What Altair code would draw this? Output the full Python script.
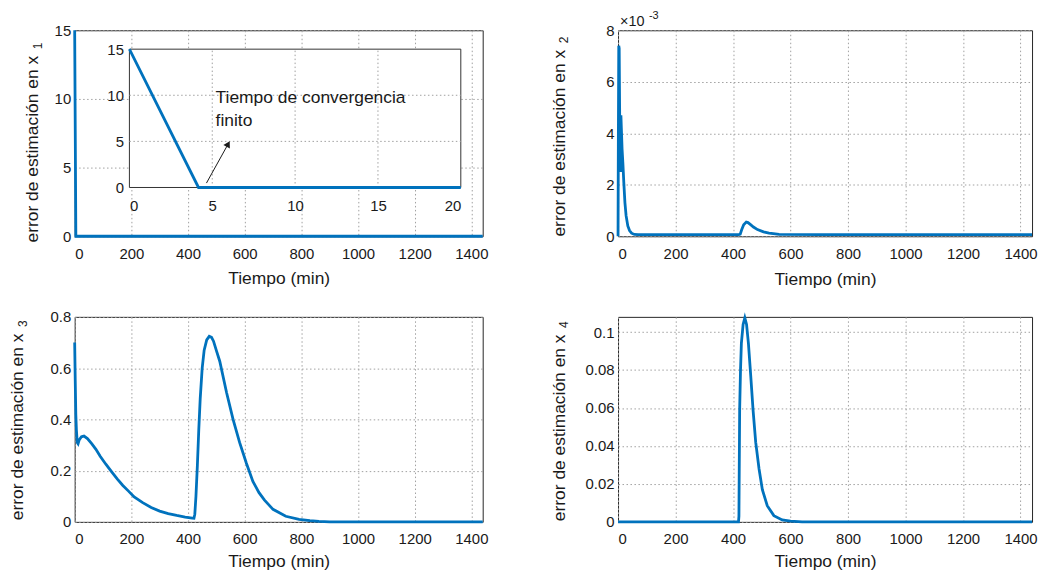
import altair as alt
import pandas as pd

FONT = "Liberation Sans"
BLUE = "#0072BD"
INK = "#1a1a1a"

# ---------------- data ----------------
t_ticks = [0, 200, 400, 600, 800, 1000, 1200, 1400]

# panel 1 : error in x1
x1_t = [0, 4.17, 20, 1440]
x1_v = [15, 0, 0, 0]
x1_yticks = [0, 5, 10, 15]

# inset of panel 1
inset_xticks = [0, 5, 10, 15, 20]
inset_yticks = [0, 5, 10, 15]
inset_xgrid = [5, 10, 15]
inset_ygrid = [5, 10]
note_lines = ["Tiempo de convergencia", "finito"]
note_t = [5.2, 5.2]
note_v = [9.2, 6.7]
arrow_t = [4.65, 5.96]
arrow_v = [0.48, 4.72]

# panel 2 : error in x2 (values in units of 1e-3)
x2_t = [0, 1, 2.5, 4, 5.5, 7, 8.5, 10, 11.5, 14, 17, 20, 24, 28, 34, 40, 47, 57,
        70, 150, 250, 350, 420, 425, 430, 437, 446, 452, 462, 471, 485, 506, 525,
        540, 560, 700, 900, 1100, 1300, 1440]
x2_v = [0, 3.5, 7.4, 7.3, 5.0, 2.6, 2.5, 4.7, 4.2, 3.4, 2.8, 2.1, 1.3, 0.8, 0.4, 0.22, 0.12, 0.07,
        0.06, 0.06, 0.06, 0.06, 0.06, 0.08, 0.25, 0.45, 0.55, 0.53, 0.44, 0.36, 0.26, 0.17, 0.12,
        0.1, 0.07, 0.06, 0.06, 0.06, 0.06, 0.06]
x2_yticks = [0, 2, 4, 6, 8]

# panel 3 : error in x3
x3_t = [0, 2, 4, 6, 9, 12, 16, 24, 33, 45, 60, 75, 90, 110, 130, 150, 170, 190, 210,
        240, 270, 300, 330, 360, 390, 415, 421, 424, 428, 433, 438, 443, 450, 457, 466,
        475, 483, 490, 501, 512, 536, 559, 582, 606, 629, 650, 670, 700, 745, 792, 830,
        862, 900, 1440]
x3_v = [0.70, 0.55, 0.42, 0.36, 0.31, 0.305, 0.32, 0.332, 0.335, 0.325, 0.305, 0.283,
        0.256, 0.225, 0.196, 0.168, 0.142, 0.12, 0.097, 0.075, 0.056, 0.042, 0.032,
        0.025, 0.019, 0.015, 0.014, 0.03, 0.1, 0.22, 0.36, 0.48, 0.6, 0.67, 0.71, 0.724,
        0.72, 0.705, 0.665, 0.627, 0.505, 0.40, 0.31, 0.229, 0.158, 0.115, 0.085, 0.049,
        0.022, 0.010, 0.005, 0.002, 0.0, 0.0]
x3_yticks = [0, 0.2, 0.4, 0.6, 0.8]

# panel 4 : error in x4
x4_t = [0, 419, 420.5, 423, 426, 429, 435, 441, 447, 453.5, 461.5, 469.6, 478.8, 490.4,
        502, 519, 542, 571, 600, 640, 1440]
x4_v = [0, 0, 0.003, 0.059, 0.08, 0.094, 0.104, 0.1075, 0.104, 0.094, 0.077, 0.059,
        0.042, 0.028, 0.017, 0.0085, 0.0033, 0.001, 0.0004, 0.0, 0.0]
x4_yticks = [0, 0.02, 0.04, 0.06, 0.08, 0.1]

YTITLE = "error de estimación en x"
TFS = 17.5          # title font size
HALF_LEN = 10.726 * TFS / 2   # half length of YTITLE in px (Arial metrics)

one = pd.DataFrame({"a": [0]})


# ---------------- helpers ----------------
def main_layer(t, v, ydom, yticks, w, h, title_x, title_y, xtitle_y):
    df = pd.DataFrame({"t": t, "v": v})
    return alt.Chart(df).mark_line(color=BLUE, strokeWidth=2.8).encode(
        x=alt.X("t:Q",
                scale=alt.Scale(domain=[0, 1440], nice=False, zero=False),
                axis=alt.Axis(values=t_ticks, format="~r", title="Tiempo (min)",
                              labelPadding=10, titleY=xtitle_y, titleBaseline="middle")),
        y=alt.Y("v:Q",
                scale=alt.Scale(domain=ydom, nice=False, zero=False),
                axis=alt.Axis(values=yticks, format="~r", title=YTITLE,
                              labelPadding=4, titleX=title_x, titleY=title_y,
                              titleBaseline="alphabetic")),
    ).properties(width=w, height=h)


def subscript(digit, title_x, title_y):
    return alt.Chart(one).mark_text(angle=270, align="left", baseline="alphabetic",
                                    font=FONT, fontSize=12, color=INK).encode(
        x=alt.value(title_x + 4), y=alt.value(title_y - HALF_LEN - 6), text=alt.value(digit))


def ypanel(digit, t, v, ydom, yticks, w, h, title_x, title_y, xtitle_y):
    return [main_layer(t, v, ydom, yticks, w, h, title_x, title_y, xtitle_y),
            subscript(digit, title_x, title_y)]


W1, W2 = 410, 416
H1, H2 = 207, 206

# ----- panel 1 with inset -----
p1_layers = ypanel("1", x1_t, x1_v, [0, 15], x1_yticks, W1, H1, -37, 119, 42)

ix = alt.Scale(domain=[0, 20], range=[55, 388], nice=False, zero=False)
iy = alt.Scale(domain=[0, 15], range=[158, 19], nice=False, zero=False)
ix_axis = alt.Axis(values=inset_xticks, format="~r", title="", grid=False,
                   orient="bottom", offset=-49, labelPadding=11.5)
iy_axis = alt.Axis(values=inset_yticks, format="~r", title="", grid=False,
                   orient="left", offset=-55, labelPadding=6)


def IX(field):
    return alt.X(field, scale=ix, axis=ix_axis)


def IY(field):
    return alt.Y(field, scale=iy, axis=iy_axis)


box_df = pd.DataFrame({"t": [0], "t2": [20], "v": [0], "v2": [15]})
inset_box = alt.Chart(box_df).mark_rect(fill="white", stroke="#333333", strokeWidth=1).encode(
    x=IX("t:Q"), x2="t2:Q", y=IY("v:Q"), y2="v2:Q",
)

vg_df = pd.DataFrame({"t": inset_xgrid, "v": [0] * len(inset_xgrid), "v2": [15] * len(inset_xgrid)})
inset_vgrid = alt.Chart(vg_df).mark_rule(color="#a0a0a0", strokeDash=[1.5, 2.5], strokeWidth=1).encode(
    x=IX("t:Q"), y=IY("v:Q"), y2="v2:Q",
)
hg_df = pd.DataFrame({"v": inset_ygrid, "t": [0] * len(inset_ygrid), "t2": [20] * len(inset_ygrid)})
inset_hgrid = alt.Chart(hg_df).mark_rule(color="#a0a0a0", strokeDash=[1.5, 2.5], strokeWidth=1).encode(
    x=IX("t:Q"), x2="t2:Q", y=IY("v:Q"),
)

inset_df = pd.DataFrame({"t": x1_t, "v": x1_v})
inset_df = inset_df[inset_df["t"] <= 20]
inset_line = alt.Chart(inset_df).mark_line(color=BLUE, strokeWidth=2.8).encode(
    x=IX("t:Q"), y=IY("v:Q"),
)

note_df = pd.DataFrame({"t": note_t, "v": note_v, "s": note_lines})
inset_note = alt.Chart(note_df).mark_text(align="left", baseline="alphabetic", font=FONT,
                                          fontSize=17.5, color=INK).encode(
    x=IX("t:Q"), y=IY("v:Q"), text="s:N",
)

arrow_df = pd.DataFrame({"t": arrow_t, "v": arrow_v})
arrow_shaft = alt.Chart(arrow_df).mark_line(color=INK, strokeWidth=1).encode(
    x=IX("t:Q"), y=IY("v:Q"),
)
arrow_head = alt.Chart(arrow_df.iloc[[1]]).mark_point(shape="triangle-up", filled=True, color=INK,
                                                      size=55, angle=29, opacity=1).encode(
    x=IX("t:Q"), y=IY("v:Q"),
)

inset = alt.layer(inset_box, inset_vgrid, inset_hgrid, inset_line, inset_note, arrow_shaft, arrow_head)
p1 = alt.layer(*p1_layers, inset).resolve_scale(x="independent", y="independent").resolve_axis(
    x="independent", y="independent")

# ----- panel 2 -----
p2_layers = ypanel("2", x2_t, x2_v, [0, 8], x2_yticks, W2, H1, -54, 113, 43)
p2_mult = alt.Chart(one).mark_text(align="left", baseline="alphabetic", font=FONT,
                                   fontSize=14.5, color=INK).encode(
    x=alt.value(2), y=alt.value(-4), text=alt.value("×10"))
p2_exp = alt.Chart(one).mark_text(align="left", baseline="alphabetic", font=FONT,
                                  fontSize=11, color=INK).encode(
    x=alt.value(31), y=alt.value(-11), text=alt.value("-3"))
p2 = alt.layer(*p2_layers, p2_mult, p2_exp)

# ----- panel 3 -----
p3 = alt.layer(*ypanel("3", x3_t, x3_v, [0, 0.8], x3_yticks, W1, H2, -52, 110, 40))

# ----- panel 4 -----
p4 = alt.layer(*ypanel("4", x4_t, x4_v, [0, 0.108], x4_yticks, W2, H2, -54, 111, 40))

chart = alt.concat(p1, p2, p3, p4, columns=2, spacing={"row": 81, "column": 136},
                   bounds="flush").properties(
    padding={"left": 0, "top": 0, "right": 0, "bottom": 0}
).configure(font=FONT).configure_view(
    stroke="#262626", strokeWidth=1
).configure_axis(
    labelFont=FONT, titleFont=FONT, labelFontSize=15, titleFontSize=TFS,
    titleFontWeight="normal", labelColor=INK, titleColor=INK,
    gridColor="#a0a0a0", gridDash=[1.5, 2.5], gridWidth=1, gridOpacity=1,
    ticks=False, tickSize=0, domain=False,
)

chart.save("out.html", embed_options={"renderer": "svg", "actions": False})
